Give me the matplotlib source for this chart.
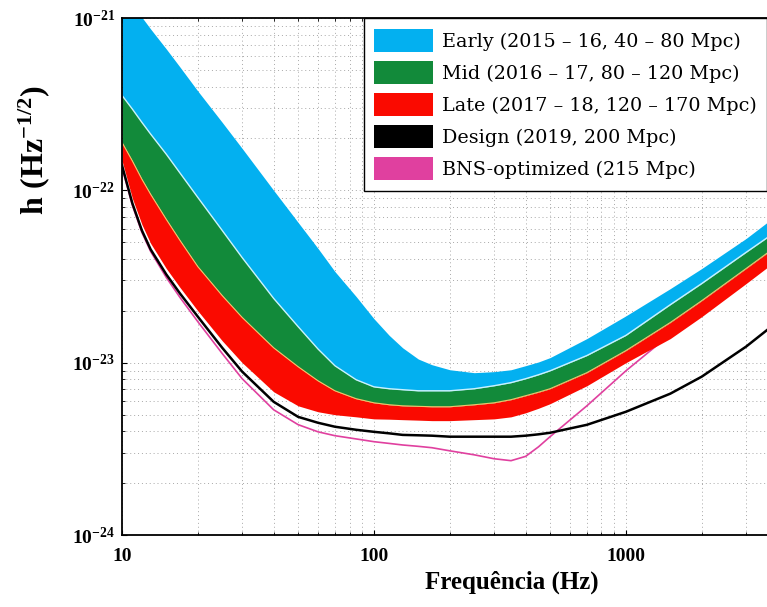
import matplotlib
matplotlib.use("Agg")
import matplotlib.pyplot as plt
from matplotlib.patches import Patch

# frequency grid (Hz) and amplitude spectral densities (1/sqrt(Hz))
freq = [10, 11, 12, 13, 15, 17, 20, 25, 30, 40, 50, 60, 70, 85, 100, 115, 130, 150, 170,
        200, 250, 300, 350, 400, 450, 500, 700, 1000, 1500, 2000, 3000, 4000]

early_hi = [1.44e-21, 1.21e-21, 1.01e-21, 8.63e-22, 6.61e-22, 5.19e-22, 3.77e-22, 2.48e-22,
            1.75e-22, 1.00e-22, 6.52e-23, 4.60e-23, 3.38e-23, 2.42e-23, 1.80e-23, 1.44e-23,
            1.22e-23, 1.05e-23, 9.73e-24, 9.10e-24, 8.75e-24, 8.87e-24, 9.10e-24, 9.61e-24,
            1.01e-23, 1.07e-23, 1.38e-23, 1.87e-23, 2.69e-23, 3.52e-23, 5.26e-23, 7.25e-23]
early_lo = [3.56e-22, 2.96e-22, 2.48e-22, 2.12e-22, 1.62e-22, 1.26e-22, 9.1e-23, 5.85e-23,
            4.07e-23, 2.36e-23, 1.62e-23, 1.20e-23, 9.6e-24, 7.96e-24, 7.24e-24, 7.06e-24,
            6.97e-24, 6.87e-24, 6.87e-24, 6.87e-24, 7.06e-24, 7.35e-24, 7.66e-24, 8.07e-24,
            8.51e-24, 8.97e-24, 1.10e-23, 1.44e-23, 2.17e-23, 2.88e-23, 4.37e-23, 5.85e-23]
mid_lo = [1.90e-22, 1.48e-22, 1.16e-22, 9.48e-23, 6.78e-23, 5.12e-23, 3.61e-23, 2.45e-23,
          1.83e-23, 1.22e-23, 9.48e-24, 7.85e-24, 6.87e-24, 6.18e-24, 5.85e-24, 5.70e-24,
          5.62e-24, 5.58e-24, 5.55e-24, 5.55e-24, 5.70e-24, 5.85e-24, 6.10e-24, 6.43e-24,
          6.74e-24, 7.06e-24, 8.75e-24, 1.175e-23, 1.71e-23, 2.29e-23, 3.52e-23, 4.79e-23]
late_lo = [1.49e-22, 8.98e-23, 6.34e-23, 4.92e-23, 3.52e-23, 2.73e-23, 2.00e-23, 1.34e-23,
           1.00e-23, 6.78e-24, 5.62e-24, 5.19e-24, 4.99e-24, 4.85e-24, 4.72e-24, 4.70e-24,
           4.67e-24, 4.64e-24, 4.61e-24, 4.61e-24, 4.67e-24, 4.72e-24, 4.85e-24, 5.12e-24,
           5.44e-24, 5.78e-24, 7.35e-24, 1.00e-23, 1.38e-23, 1.85e-23, 2.88e-23, 3.97e-23]
design = [1.40e-22, 8.40e-23, 5.85e-23, 4.54e-23, 3.25e-23, 2.52e-23, 1.85e-23, 1.22e-23,
          8.87e-24, 5.93e-24, 4.85e-24, 4.48e-24, 4.25e-24, 4.08e-24, 3.97e-24, 3.89e-24,
          3.81e-24, 3.79e-24, 3.77e-24, 3.72e-24, 3.72e-24, 3.72e-24, 3.72e-24, 3.77e-24,
          3.84e-24, 3.92e-24, 4.36e-24, 5.19e-24, 6.61e-24, 8.30e-24, 1.24e-23, 1.73e-23]
bns = [1.36e-22, 8.18e-23, 5.70e-23, 4.42e-23, 3.12e-23, 2.39e-23, 1.73e-23, 1.13e-23,
       8.07e-24, 5.33e-24, 4.37e-24, 3.97e-24, 3.77e-24, 3.61e-24, 3.48e-24, 3.40e-24,
       3.33e-24, 3.27e-24, 3.21e-24, 3.08e-24, 2.92e-24, 2.77e-24, 2.70e-24, 2.86e-24,
       3.25e-24, 3.72e-24, 5.62e-24, 8.97e-24, 1.46e-23, 1.93e-23, 3.00e-23, 4.13e-23]

labels = ["Early (2015 – 16, 40 – 80 Mpc)",
          "Mid (2016 – 17, 80 – 120 Mpc)",
          "Late (2017 – 18, 120 – 170 Mpc)",
          "Design (2019, 200 Mpc)",
          "BNS-optimized (215 Mpc)"]
colors = ["#03b0f0", "#128a3a", "#fa0a00", "#000000", "#e0409f"]

ytick_vals = [1e-24, 1e-23, 1e-22, 1e-21]
ytick_text = [r"$\mathrm{10^{-24}}$", r"$\mathrm{10^{-23}}$",
              r"$\mathrm{10^{-22}}$", r"$\mathrm{10^{-21}}$"]
xtick_vals = [10, 100, 1000]
xtick_text = ["10", "100", "1000"]

plt.rcParams["font.family"] = "Liberation Serif"
plt.rcParams["mathtext.fontset"] = "custom"
plt.rcParams["mathtext.rm"] = "Liberation Serif:bold"
plt.rcParams["mathtext.it"] = "Liberation Serif:bold"
plt.rcParams["mathtext.bf"] = "Liberation Serif:bold"

fig = plt.figure(figsize=(7.67, 6.07), dpi=100)
ax = fig.add_axes([0.159, 0.1186, 0.841, 0.8517])
ax.set_xscale("log")
ax.set_yscale("log")

# ── bands and curves ────────────────────────────────────────────────────────
ax.plot(freq, bns, color=colors[4], linewidth=1.2, zorder=1.5)
ax.fill_between(freq, early_lo, early_hi, color=colors[0], linewidth=0, zorder=2)
ax.fill_between(freq, mid_lo, early_lo, color=colors[1], linewidth=0, zorder=2)
ax.fill_between(freq, late_lo, mid_lo, color=colors[2], linewidth=0, zorder=2)
ax.plot(freq, early_lo, color="#c8f2ff", linewidth=1.0, zorder=2.2)
ax.plot(freq, mid_lo, color="#f2c46a", linewidth=0.8, zorder=2.2)
ax.plot(freq, design, color=colors[3], linewidth=1.8, zorder=3)

ax.set_xlim(10, 3630)
ax.set_ylim(1e-24, 1e-21)

ax.set_xticks(xtick_vals)
ax.set_xticklabels(xtick_text, fontsize=14, fontweight="bold")
ax.set_yticks(ytick_vals)
ax.set_yticklabels(ytick_text, fontsize=14)
ax.tick_params(which="both", direction="in", top=True, right=False)
ax.tick_params(axis="x", pad=9)
ax.tick_params(axis="y", pad=5)
ax.grid(True, which="both", linestyle=(0, (1, 3)), linewidth=0.7, color="#a8a8a8")
ax.set_axisbelow(True)
for side in ["left", "bottom", "top"]:
    ax.spines[side].set_linewidth(1.3)
ax.spines["right"].set_visible(False)

ax.set_ylabel(r"$\mathrm{h\ (Hz^{-1/2})}$", fontsize=23)
ax.yaxis.set_label_coords(-0.109, 0.745)
ax.set_xlabel("Frequência (Hz)", fontsize=18, fontweight="bold")
ax.xaxis.set_label_coords(0.605, -0.068)

handles = [Patch(facecolor=c, edgecolor="none") for c in colors]
leg = ax.legend(handles, labels, loc="upper right", bbox_to_anchor=(1.0, 1.0),
                borderaxespad=0.0, prop={"family": "DejaVu Serif", "size": 13.8},
                handlelength=3.1, handleheight=1.5, handletextpad=0.43,
                labelspacing=0.45, borderpad=0.55, fancybox=False, framealpha=1.0)
leg.get_frame().set_edgecolor("black")
leg.get_frame().set_linewidth(1.0)

plt.savefig("out.png", dpi=100)
